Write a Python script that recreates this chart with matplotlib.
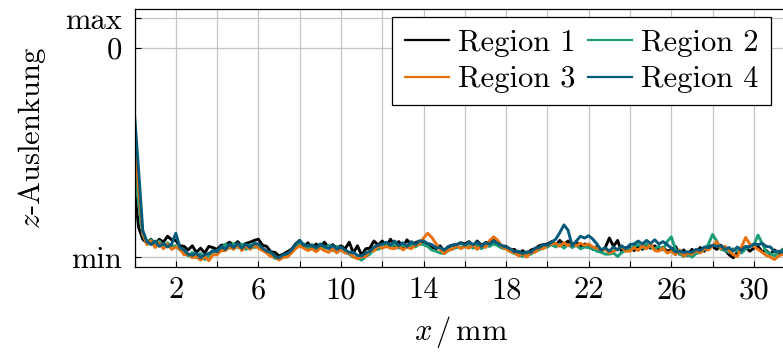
import matplotlib
matplotlib.use("Agg")
import matplotlib.pyplot as plt
import numpy as np

plt.rcParams['font.family'] = ['cmr10', 'DejaVu Serif']
plt.rcParams['mathtext.fontset'] = 'cm'
plt.rcParams['axes.formatter.use_mathtext'] = True

# sample spacing along x in mm
dx = 0.2

# z deflection, scaled so that min = -7, 0 = 0, max = 1
region1 = [-4.75, -6.00, -6.40, -6.52, -6.40, -6.58, -6.40, -6.50, -6.30, -6.42,
           -6.44, -6.62, -6.64, -6.76, -6.62, -6.84, -6.70, -6.86, -6.64, -6.68,
           -6.74, -6.60, -6.60, -6.50, -6.62, -6.48, -6.64, -6.54, -6.50, -6.44,
           -6.40, -6.60, -6.64, -6.82, -6.84, -6.96, -6.90, -6.82, -6.74, -6.56,
           -6.44, -6.64, -6.52, -6.72, -6.56, -6.66, -6.50, -6.68, -6.58, -6.70,
           -6.62, -6.72, -6.50, -6.86, -6.62, -6.94, -6.72, -6.70, -6.46, -6.60,
           -6.46, -6.64, -6.40, -6.62, -6.48, -6.66, -6.42, -6.60, -6.52, -6.46,
           -6.54, -6.60, -6.68, -6.72, -6.62, -6.80, -6.66, -6.60, -6.58, -6.52,
           -6.56, -6.48, -6.62, -6.46, -6.60, -6.52, -6.50, -6.44, -6.56, -6.62,
           -6.64, -6.76, -6.74, -6.90, -6.78, -6.92, -6.76, -6.72, -6.62, -6.58,
           -6.56, -6.48, -6.60, -6.44, -6.58, -6.46, -6.60, -6.50, -6.64, -6.56,
           -6.60, -6.74, -6.64, -6.82, -6.68, -6.36, -6.64, -6.44, -6.84, -6.68,
           -6.68, -6.78, -6.62, -6.74, -6.60, -6.70, -6.62, -6.76, -6.68, -6.80,
           -6.76, -6.64, -6.90, -6.76, -6.94, -6.74, -6.86, -6.68, -6.80, -6.62,
           -6.64, -6.74, -6.60, -6.76, -6.92, -7.02, -6.84, -6.72, -6.66, -6.80,
           -6.70, -6.64, -6.82, -6.78, -6.90, -6.76, -6.88, -6.74, -6.72, -6.68]
region2 = [-3.87, -5.20, -6.25, -6.55, -6.42, -6.62, -6.46, -6.68, -6.52, -6.64,
           -6.62, -6.76, -6.82, -6.96, -6.84, -7.02, -6.88, -7.08, -6.96, -6.84,
           -6.78, -6.72, -6.56, -6.70, -6.54, -6.68, -6.56, -6.74, -6.58, -6.68,
           -6.62, -6.74, -6.82, -6.92, -7.04, -7.06, -7.00, -6.96, -6.82, -6.64,
           -6.54, -6.56, -6.72, -6.58, -6.72, -6.56, -6.72, -6.60, -6.78, -6.64,
           -6.76, -6.84, -6.90, -7.00, -7.02, -7.10, -6.98, -6.90, -6.74, -6.74,
           -6.66, -6.58, -6.66, -6.56, -6.70, -6.60, -6.68, -6.58, -6.66, -6.56,
           -6.58, -6.64, -6.76, -6.80, -6.86, -6.88, -6.78, -6.72, -6.68, -6.66,
           -6.66, -6.58, -6.70, -6.60, -6.72, -6.60, -6.64, -6.56, -6.62, -6.70,
           -6.72, -6.80, -6.88, -6.92, -6.98, -6.92, -6.90, -6.80, -6.76, -6.68,
           -6.66, -6.58, -6.66, -6.56, -6.70, -6.58, -6.68, -6.60, -6.72, -6.66,
           -6.68, -6.72, -6.80, -6.84, -6.90, -6.90, -6.86, -6.98, -6.84, -6.78,
           -6.74, -6.64, -6.58, -6.70, -6.56, -6.66, -6.72, -6.64, -6.76, -6.48,
           -6.32, -6.74, -6.88, -6.98, -6.90, -7.00, -6.88, -6.84, -6.74, -6.56,
           -6.24, -6.46, -6.74, -6.78, -6.84, -6.72, -6.80, -6.86, -6.72, -6.62,
           -6.60, -6.26, -6.54, -6.82, -6.88, -6.96, -6.82, -6.78, -6.56, -6.48]
region3 = [-3.00, -4.70, -6.20, -6.58, -6.46, -6.68, -6.52, -6.72, -6.56, -6.74,
           -6.66, -6.72, -6.92, -6.90, -7.02, -6.98, -7.10, -6.98, -7.12, -6.92,
           -6.92, -6.78, -6.78, -6.66, -6.74, -6.60, -6.78, -6.62, -6.74, -6.60,
           -6.70, -6.78, -6.86, -6.98, -6.98, -7.10, -7.00, -7.00, -6.86, -6.72,
           -6.62, -6.70, -6.78, -6.72, -6.82, -6.70, -6.78, -6.84, -6.72, -6.86,
           -6.74, -6.86, -6.86, -6.98, -7.06, -6.98, -6.98, -6.78, -6.80, -6.62,
           -6.70, -6.64, -6.70, -6.72, -6.62, -6.76, -6.66, -6.72, -6.60, -6.56,
           -6.36, -6.20, -6.34, -6.54, -6.74, -6.88, -6.76, -6.74, -6.60, -6.72,
           -6.64, -6.70, -6.58, -6.74, -6.60, -6.68, -6.44, -6.32, -6.44, -6.66,
           -6.72, -6.82, -6.84, -6.96, -6.88, -7.00, -6.84, -6.84, -6.70, -6.72,
           -6.60, -6.56, -6.54, -6.64, -6.52, -6.62, -6.54, -6.62, -6.54, -6.60,
           -6.56, -6.66, -6.70, -6.74, -6.74, -6.86, -6.80, -6.74, -6.66, -6.80,
           -6.80, -6.68, -6.78, -6.62, -6.72, -6.56, -6.78, -6.80, -6.70, -6.86,
           -6.80, -6.92, -6.76, -6.96, -6.86, -6.90, -6.78, -6.86, -6.70, -6.76,
           -6.62, -6.48, -6.72, -6.64, -6.78, -6.92, -6.98, -6.66, -6.34, -6.56,
           -6.64, -6.74, -6.84, -6.94, -7.00, -7.08, -6.96, -6.90, -6.82, -6.88]
region4 = [-2.20, -4.10, -6.10, -6.48, -6.58, -6.46, -6.64, -6.54, -6.66, -6.56,
           -6.20, -6.68, -6.76, -6.90, -6.94, -6.86, -7.02, -6.92, -6.88, -6.78,
           -6.82, -6.64, -6.74, -6.56, -6.68, -6.54, -6.70, -6.56, -6.68, -6.54,
           -6.56, -6.70, -6.80, -6.82, -6.98, -7.02, -6.92, -6.88, -6.76, -6.58,
           -6.44, -6.60, -6.62, -6.60, -6.70, -6.56, -6.64, -6.72, -6.60, -6.74,
           -6.66, -6.76, -6.84, -6.84, -6.94, -6.96, -6.86, -6.80, -6.66, -6.60,
           -6.56, -6.50, -6.60, -6.46, -6.62, -6.52, -6.64, -6.48, -6.58, -6.46,
           -6.46, -6.54, -6.58, -6.68, -6.68, -6.76, -6.64, -6.60, -6.58, -6.52,
           -6.60, -6.50, -6.58, -6.50, -6.64, -6.52, -6.56, -6.46, -6.54, -6.62,
           -6.66, -6.72, -6.82, -6.80, -6.88, -6.82, -6.84, -6.70, -6.68, -6.58,
           -6.60, -6.50, -6.40, -6.18, -5.92, -6.10, -6.62, -6.46, -6.30, -6.36,
           -6.28, -6.40, -6.56, -6.76, -6.68, -6.80, -6.66, -6.76, -6.62, -6.72,
           -6.58, -6.56, -6.46, -6.56, -6.44, -6.54, -6.42, -6.56, -6.48, -6.58,
           -6.70, -6.82, -6.80, -6.84, -6.82, -6.84, -6.74, -6.78, -6.66, -6.68,
           -6.60, -6.64, -6.62, -6.74, -6.68, -6.80, -6.66, -6.78, -6.64, -6.66,
           -6.56, -6.58, -6.54, -6.64, -6.66, -6.82, -6.80, -6.84, -6.72, -6.74]

labels = ["Region 1", "Region 2", "Region 3", "Region 4"]
colors = ["black", "#1b9e77", "#e8710e", "#045a7a"]

ytick_pos = [-7, 0, 1]
ytick_lab = ["min", "0", "max"]
xtick_lab = [2, 6, 10, 14, 18, 22, 26, 30]

x = np.arange(len(region1)) * dx

fig = plt.figure(figsize=(7.83, 3.52), dpi=100)
ax = fig.add_axes([134.5 / 783, 1 - 267 / 352, 1.005 - 134.5 / 783, 258 / 352])

lines = []
for ys, lab, c in zip([region1, region2, region3, region4], labels, colors):
    ln, = ax.plot(x, ys, color=c, lw=2.1, label=lab)
    lines.append(ln)

ax.set_xlim(0, 31.6)
ax.set_ylim(-7.33, 1.31)

xt = np.arange(0, 32, 2)
ax.set_xticks(xt)
ax.set_xticklabels([str(v) if v in xtick_lab else "" for v in xt])
ax.set_yticks(ytick_pos)
ax.set_yticklabels(ytick_lab)

ax.grid(True, color="#c4c4c4", lw=0.9)
ax.set_axisbelow(True)
ax.tick_params(direction="in", length=4, width=0.8, labelsize=22, colors="black")
ax.tick_params(axis="y", pad=9)
ax.tick_params(axis="x", pad=7)
for s in ax.spines.values():
    s.set_linewidth(0.9)

ax.set_xlabel(r"$x\,/\,$mm", fontsize=22, labelpad=7)
ax.set_ylabel(r"$z$-Auslenkung", fontsize=22, labelpad=12)

# row-wise legend order: 1 2 / 3 4
order = [0, 2, 1, 3]
leg = ax.legend([lines[i] for i in order], [labels[i] for i in order],
                loc="upper right", ncol=2, bbox_to_anchor=(771 / 783, 1 - 17 / 352),
                bbox_transform=fig.transFigure, borderaxespad=0, fontsize=22,
                handlelength=1.45, handletextpad=0.3, columnspacing=0.4,
                labelspacing=0.3, borderpad=0.4, fancybox=False, framealpha=1)
leg.get_frame().set_edgecolor("black")
leg.get_frame().set_linewidth(0.9)
for h in leg.get_lines():
    h.set_linewidth(1.6)

fig.savefig("out.png", dpi=100)
